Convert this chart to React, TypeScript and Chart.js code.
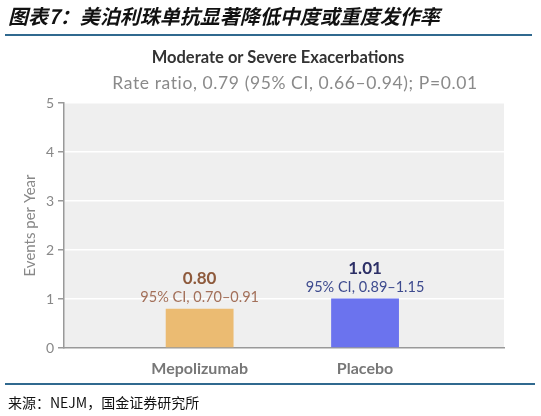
import { Chart, registerables } from 'chart.js';
import { FC, useEffect, useRef } from 'react';

Chart.register(...registerables);

const categories = ['Mepolizumab', 'Placebo'];
const rates = [0.8, 1.01];
const ciLabels = ['95% CI, 0.70–0.91', '95% CI, 0.89–1.15'];
const yTicks = [0, 1, 2, 3, 4, 5];

const barColors = ['#ebbb72', '#6b73ee'];
const valueColors = ['#8e5a3c', '#2c2f66'];
const ciColors = ['#a3705a', '#3d4a8e'];

const FONT = 'Lato, "Open Sans", sans-serif';

// grey plot background
const plotBg = {
	id: 'plotBg',
	beforeDraw(chart: Chart) {
		const { ctx, chartArea } = chart;
		ctx.save();
		ctx.fillStyle = '#efefef';
		ctx.fillRect(chartArea.left, chartArea.top, chartArea.right - chartArea.left, chartArea.bottom - chartArea.top);
		ctx.restore();
	},
};

// value + CI text above each bar
const barLabels = {
	id: 'barLabels',
	afterDatasetsDraw(chart: Chart) {
		const { ctx } = chart;
		const meta = chart.getDatasetMeta(0);
		ctx.save();
		ctx.textAlign = 'center';
		ctx.textBaseline = 'middle';
		meta.data.forEach((bar: any, i: number) => {
			ctx.fillStyle = valueColors[i];
			ctx.font = `bold 17px ${FONT}`;
			ctx.fillText(rates[i].toFixed(2), bar.x, bar.y - 30);
			ctx.fillStyle = ciColors[i];
			ctx.font = `14.5px ${FONT}`;
			ctx.fillText(ciLabels[i], bar.x, bar.y - 11);
		});
		ctx.restore();
	},
};

const BarChart: FC = () => {
	const canvasRef = useRef<HTMLCanvasElement | null>(null);

	useEffect(() => {
		if (!canvasRef.current) return;
		const chart = new Chart(canvasRef.current, {
			type: 'bar',
			data: {
				datasets: [
					{
						data: categories.map((_, i) => ({ x: i, y: rates[i] })),
						backgroundColor: barColors,
						borderWidth: 0,
						categoryPercentage: 0.41,
						barPercentage: 1,
					},
				],
			},
			options: {
				animation: false,
				responsive: true,
				maintainAspectRatio: false,
				layout: { padding: { top: 103, right: 37, left: 0, bottom: 0 } },
				plugins: {
					legend: { display: false },
					tooltip: { enabled: false },
				},
				scales: {
					x: {
						type: 'linear',
						offset: false,
						min: -0.82,
						max: 1.84,
						afterBuildTicks: (scale: any) => {
							scale.ticks = categories.map((_, i) => ({ value: i }));
						},
						afterFit: (scale: any) => {
							scale.height = 68;
						},
						ticks: {
							callback: (v: any) => categories[v] ?? '',
							color: '#777',
							padding: 3,
							font: { family: FONT, size: 16, weight: 'bold' },
						},
						grid: { display: false },
						border: { display: true, color: '#999', width: 1.5 },
					},
					y: {
						min: yTicks[0],
						max: yTicks[yTicks.length - 1],
						afterFit: (scale: any) => {
							scale.width = 64;
						},
						afterBuildTicks: (scale: any) => {
							scale.ticks = yTicks.map((v) => ({ value: v }));
						},
						ticks: {
							color: '#888',
							padding: 4,
							font: { family: FONT, size: 14 },
						},
						grid: {
							color: '#ffffff',
							lineWidth: 1.5,
							tickLength: 6,
							tickColor: '#999',
							tickWidth: 1.5,
						},
						border: { display: true, color: '#999', width: 1.5 },
						title: {
							display: true,
							text: 'Events per Year',
							color: '#888',
							padding: { top: 21, bottom: 0 },
							font: { family: FONT, size: 15 },
						},
					},
				},
			},
			plugins: [plotBg, barLabels],
		});
		return () => chart.destroy();
	}, []);

	return <canvas ref={canvasRef}></canvas>;
};

const App: FC = () => (
	<div style={{ position: 'absolute', left: 0, top: 0, width: 541, height: 416, background: '#fff', overflow: 'hidden' }}>
		<div style={{ position: 'absolute', inset: 0 }}>
			<BarChart />
		</div>
		<div
			style={{
				position: 'absolute',
				left: 8,
				top: 0,
				lineHeight: '32px',
				fontSize: 20,
				fontStyle: 'italic',
				fontWeight: 700,
				fontFamily: '"Noto Sans CJK SC", sans-serif',
				color: '#111',
				whiteSpace: 'nowrap',
			}}
		>
			图表7：美泊利珠单抗显著降低中度或重度发作率
		</div>
		<div style={{ position: 'absolute', left: 5, top: 34, width: 527, height: 2, background: '#30698f' }} />
		<div
			style={{
				position: 'absolute',
				left: 78,
				top: 46,
				width: 400,
				textAlign: 'center',
				lineHeight: '22px',
				fontSize: 16.5,
				fontWeight: 700,
				fontFamily: FONT,
				color: '#333',
			}}
		>
			Moderate or Severe Exacerbations
		</div>
		<div
			style={{
				position: 'absolute',
				left: 45,
				top: 72,
				width: 500,
				textAlign: 'center',
				lineHeight: '22px',
				fontSize: 17.5,
				letterSpacing: '0.6px',
				fontFamily: FONT,
				color: '#8a8a8a',
			}}
		>
			Rate ratio, 0.79 (95% CI, 0.66–0.94); P=0.01
		</div>
		<div style={{ position: 'absolute', left: 5, top: 383, width: 530, height: 2, background: '#30698f' }} />
		<div
			style={{
				position: 'absolute',
				left: 8,
				top: 392,
				lineHeight: '20px',
				fontSize: 14,
				fontFamily: '"Noto Sans CJK SC", sans-serif',
				color: '#111',
				whiteSpace: 'nowrap',
			}}
		>
			来源：NEJM，国金证券研究所
		</div>
	</div>
);

export default App;
